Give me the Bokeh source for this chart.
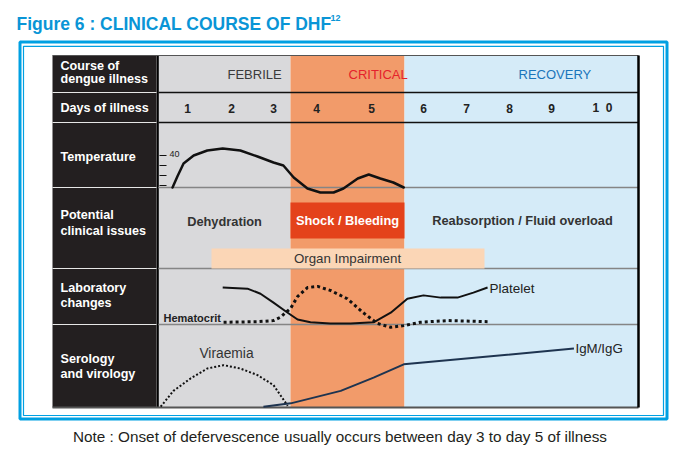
import numpy as np
from bokeh.plotting import figure
from bokeh.models import Range1d
from bokeh.core.properties import value
from bokeh.embed import file_html
from bokeh.resources import INLINE

# ---------------- data ----------------
title_text = "Figure 6 : CLINICAL COURSE OF DHF"
title_sup = "12"
note_text = "Note : Onset of defervescence usually occurs between day 3 to day 5 of illness"

phases = ["FEBRILE", "CRITICAL", "RECOVERY"]
days = [1, 2, 3, 4, 5, 6, 7, 8, 9, 10]
day_labels = ["1", "2", "3", "4", "5", "6", "7", "8", "9", "1\u00a0\u00a00"]
row_label_lines = ["Course of", "dengue illness", "Days of illness", "Temperature",
                   "Potential", "clinical issues", "Laboratory", "changes",
                   "Serology", "and virology"]
issues = ["Dehydration", "Shock / Bleeding", "Reabsorption / Fluid overload"]
organ_label = "Organ Impairment"

temp_ticks = [40, 39, 38, 37]
temp_day = [0.66, 0.77, 0.91, 1.14, 1.45, 1.80, 2.21, 2.62, 3.0, 3.23, 3.47, 3.79,
            4.07, 4.31, 4.49, 4.75, 4.95, 5.17, 5.42, 5.62]
temp_c = [36.8, 37.9, 39.2, 40.0, 40.5, 40.7, 40.5, 39.9, 39.3, 39.0, 37.8, 36.7,
          36.3, 36.3, 36.7, 37.7, 38.1, 37.7, 37.3, 36.8]

platelet_day = [1.80, 2.38, 2.69, 3.0, 3.33, 3.56, 3.86, 4.25, 4.62, 5.04, 5.37, 5.69,
                6.0, 6.40, 6.79, 7.16, 7.49]
platelet_val = [66, 64, 55, 39, 21, 9, 4, 2, 2, 4, 21, 46, 52, 48, 48, 57, 66]

hct_day = [1.82, 2.62, 3.0, 3.16, 3.40, 3.56, 3.79, 4.02, 4.25, 4.56, 4.85, 5.11,
           5.37, 5.62, 5.94, 6.56, 7.49]
hct_val = [4, 5, 7, 13, 29, 50, 66, 68, 61, 46, 21, 2, -5, -2, 4, 7, 5]

viraemia_day = [0.39, 0.68, 1.07, 1.45, 1.82, 2.21, 2.62, 3.0, 3.33]
viraemia_val = [1, 20, 35, 47, 51, 47, 39, 27, 2]

igm_day = [2.76, 3.40, 4.44, 5.04, 5.62, 9.44]
igm_val = [1, 5, 20, 36, 52, 71]

# ---------------- layout ----------------
FONT = value("Liberation Sans")
DAY_X = [187, 231, 273, 316, 371, 423, 466, 509, 551, 602]
ROWS = [55, 92, 122, 187, 268, 324, 407]
LAB_L, LAB_R, PLOT_L, TAB_R = 52, 156, 158, 638
PHASE_EDGES = [158, 290, 404, 638]
PHASE_FILL = ["#D9D9DB", "#F29B6A", "#D5EBF8"]
PHASE_TEXT = ["#3a3a3a", "#E5222B", "#1B75BB"]
BLUE = "#00A0E2"
W, H = 672, 446


def dx(d):
    d = np.asarray(d, dtype=float)
    x = np.interp(d, days, DAY_X)
    x = np.where(d < days[0], DAY_X[0] + (d - days[0]) * (DAY_X[1] - DAY_X[0]), x)
    x = np.where(d > days[-1], DAY_X[-1] + (d - days[-1]) * (DAY_X[-1] - DAY_X[-2]), x)
    return x


def temp_y(t):
    return 155 + (40 - np.asarray(t, dtype=float)) * 10


def lab_y(v):
    return ROWS[5] - np.asarray(v, dtype=float) / 100 * (ROWS[5] - ROWS[4])


def sero_y(v):
    return ROWS[6] - np.asarray(v, dtype=float) / 100 * (ROWS[6] - ROWS[5])


p = figure(width=W, height=H, x_range=Range1d(0, W), y_range=Range1d(H, 0),
           output_backend="svg", toolbar_location=None,
           x_axis_location=None, y_axis_location=None, min_border=0,
           outline_line_color=None, background_fill_color="white",
           border_fill_color="white")
p.grid.visible = False


def txt(x, y, t, size, color, style="normal", align="left", baseline="middle"):
    p.text(x=x, y=y, text=t, text_font=FONT, text_font_size=size,
           text_color=color, text_font_style=style, text_align=align,
           text_baseline=baseline)


# title
txt([16], [23], [title_text], "17.5px", "#0A95D6", "bold", baseline="alphabetic")
txt([330], [17], [title_sup], "9px", "#0A95D6", "bold", baseline="alphabetic")

# blue double frame
p.quad(left=[19.5], right=[666.5], top=[41.5], bottom=[418.5], fill_color=None,
       line_color=BLUE, line_width=3)
p.quad(left=[23], right=[663], top=[45.8], bottom=[415], fill_color=None,
       line_color=BLUE, line_width=1.2)

# label column and phase panels
p.quad(left=[LAB_L], right=[LAB_R], top=[ROWS[0]], bottom=[ROWS[-1]],
       fill_color="#231F20", line_color=None)
p.quad(left=PHASE_EDGES[:-1], right=PHASE_EDGES[1:], top=[ROWS[0]] * 3,
       bottom=[ROWS[-1]] * 3, fill_color=PHASE_FILL, line_color=None)
p.segment(x0=[157.2], y0=[ROWS[0]], x1=[157.2], y1=[ROWS[-1]], line_color="#000000",
          line_width=2.2)

# row lines
p.segment(x0=[PLOT_L] * 2, y0=ROWS[1:3], x1=[TAB_R] * 2, y1=ROWS[1:3],
          line_color="#111111", line_width=1.3)
p.segment(x0=[PLOT_L] * 3, y0=ROWS[3:6], x1=[TAB_R] * 3, y1=ROWS[3:6],
          line_color="#858585", line_width=1.3)
p.segment(x0=[LAB_L] * 5, y0=ROWS[1:6], x1=[LAB_R] * 5, y1=ROWS[1:6],
          line_color="#e6e6e6", line_width=1.2)
p.segment(x0=[LAB_L], y0=[ROWS[0]], x1=[TAB_R], y1=[ROWS[0]], line_color="#555555",
          line_width=1.2)
p.segment(x0=[LAB_L], y0=[ROWS[-1]], x1=[TAB_R], y1=[ROWS[-1]], line_color="#555555",
          line_width=2)
p.segment(x0=[TAB_R], y0=[ROWS[0]], x1=[TAB_R], y1=[ROWS[-1]], line_color="#000000",
          line_width=2.5)

# boxes in clinical issues row
p.quad(left=[290], right=[404], top=[202], bottom=[238], fill_color="#E4421B",
       line_color=None)
p.quad(left=[211], right=[484], top=[248], bottom=[268], fill_color="#FBD6B6",
       line_color=None)

# row labels (white)
label_y = [65, 78.5, 107, 156, 214, 230, 287, 302, 358, 373]
txt([60] * len(row_label_lines), label_y, row_label_lines, "12.6px", "#ffffff", "bold")

# phase headers
txt([227, 348, 518], [74] * 3, phases, "13px", PHASE_TEXT)
txt(list(dx(days)), [107.5] * len(days), day_labels, "12px", "#222222", "bold",
    align="center")

# temperature ticks
ty = temp_y(temp_ticks)
p.segment(x0=[159] * 4, y0=ty, x1=[166] * 4, y1=ty, line_color="#111111", line_width=1.2)
txt([169], [temp_y(40)[()] - 2], [str(temp_ticks[0])], "9px", "#222222")

# issues text
txt([224, 347, 522], [221, 220, 220], issues, "12.8px",
    ["#333333", "#ffffff", "#333333"], "bold", align="center")
txt([347], [258], [organ_label], "13.3px", "#333333", align="center")

# curves
p.line(dx(temp_day), temp_y(temp_c), line_color="#111111", line_width=2.5,
       line_join="round", line_cap="round")
p.line(dx(platelet_day), lab_y(platelet_val), line_color="#111111", line_width=2,
       line_join="round")
p.line(dx(hct_day), lab_y(hct_val), line_color="#111111", line_width=3,
       line_dash="3 3", line_join="round")
p.line(dx(viraemia_day), sero_y(viraemia_val), line_color="#111111", line_width=2,
       line_dash="2 2", line_join="round")
p.line(dx(igm_day), sero_y(igm_val), line_color="#1E3450", line_width=2,
       line_join="round")

# curve labels
txt([489], [287.5], ["Platelet"], "13.5px", "#222222")
txt([163], [317], ["Hematocrit"], "11px", "#222222", "bold")
txt([226], [353], ["Viraemia"], "13.8px", "#333333", align="center")
txt([575], [347.5], ["IgM/IgG"], "13.3px", "#222222")

# note
txt([339.5], [435.5], [note_text], "15.3px", "#231F20", align="center",
    baseline="alphabetic")

open("out.html", "w").write(file_html(p, INLINE))
